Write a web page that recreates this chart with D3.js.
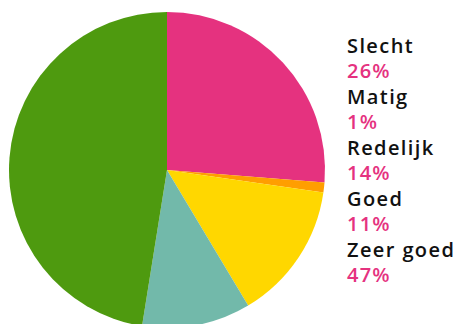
<!doctype html>
<html lang="nl">
<head>
    <meta charset="utf-8">
    <title>Pie</title>
    <script src="https://cdnjs.cloudflare.com/ajax/libs/d3/7.8.5/d3.min.js"></script>
    <style>
        body { margin: 0; background: #fff; }
        .label { font: 600 20px "Open Sans", sans-serif; fill: #111; letter-spacing: 1.4px; }
        .value { font: 600 20px "Open Sans", sans-serif; fill: #e5327f; letter-spacing: 1.2px; }
    </style>
</head>
<body>
    <div id="chart"></div>
    <script>
        var categories = ['Slecht', 'Matig', 'Redelijk', 'Goed', 'Zeer goed'];
        var values = [26, 1, 14, 11, 47];
        var colors = ['#e5327f', '#ff9e00', '#ffd700', '#72b9aa', '#4e9a0f'];

        var width = 458, height = 324;
        var cx = 167, cy = 170, radius = 158;

        var svg = d3.select('#chart')
            .append('svg')
            .attr('width', width)
            .attr('height', height);

        var pie = d3.pie().sort(null);
        var arc = d3.arc().innerRadius(0).outerRadius(radius);

        svg.append('g')
            .attr('transform', 'translate(' + cx + ',' + cy + ')')
            .selectAll('path')
            .data(pie(values))
            .enter()
            .append('path')
            .attr('d', arc)
            .attr('fill', function(d, i) { return colors[i]; });

        // legend on the right
        var y = d3.scaleLinear().domain([0, 1]).range([53, 78]);
        var legend = svg.append('g').attr('transform', 'translate(347,0)');

        categories.forEach(function(c, i) {
            legend.append('text')
                .attr('class', 'label')
                .attr('y', y(i * 2.04))
                .text(c);
            legend.append('text')
                .attr('class', 'value')
                .attr('y', y(i * 2.04 + 1))
                .text(values[i] + '%');
        });
    </script>
</body>
</html>
